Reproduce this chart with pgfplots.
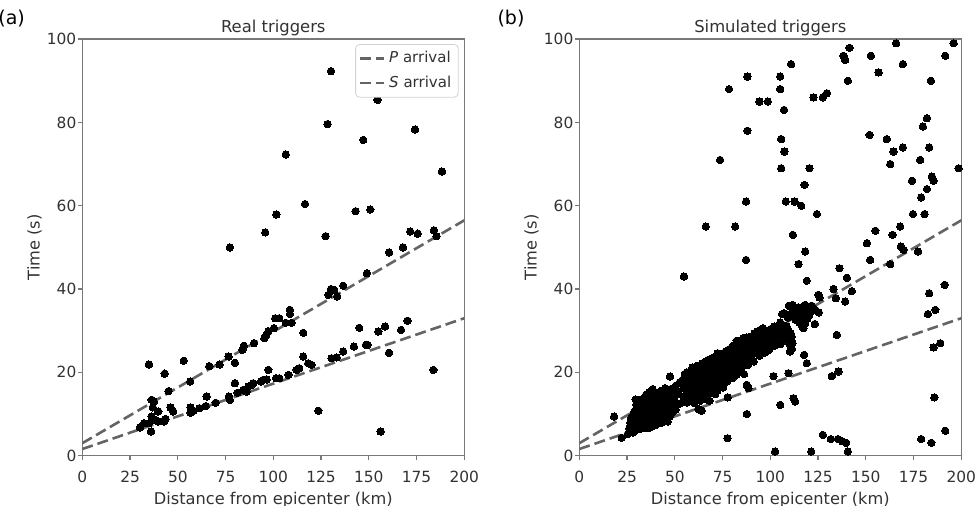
\documentclass[border=0pt]{standalone}
\usepackage{pgfplots}
\pgfplotsset{compat=1.18}
\usepackage{fontspec}
\setmainfont{DejaVu Sans}
\definecolor{txt}{RGB}{50,50,50}
\definecolor{frame}{RGB}{120,120,120}
\definecolor{lc}{RGB}{100,100,100}
\pgfplotsset{
  panel/.style={
    scale only axis, width=191bp, height=208.3bp,
    xmin=0, xmax=200, ymin=0, ymax=100,
    xtick={0,25,...,200}, ytick={0,20,...,100},
    axis line style={frame, line width=0.6bp},
    tick style={frame, line width=0.6bp},
    major tick length=2bp, tick align=outside,
    xtick pos=bottom, ytick pos=left,
    /pgf/number format/assume math mode=true,
    tick label style={font=\fontsize{7.7bp}{9bp}\selectfont, text=txt},
    xticklabel style={inner sep=0pt, yshift=-5.5bp},
    yticklabel style={inner sep=0pt, xshift=-0.8bp},
    label style={font=\fontsize{8.1bp}{9.5bp}\selectfont, text=txt},
    xlabel={Distance from epicenter (km)},
    ylabel={Time (s)},
    xlabel style={at={(axis description cs:0.5,-0.106)}, anchor=center},
    ylabel style={at={(axis description cs:-0.125,0.5)}, anchor=center},
    title style={inner sep=0pt, yshift=-4.5bp, font=\fontsize{8.2bp}{9.5bp}\selectfont, text=txt},
    clip=true,
  },
  dots/.style={only marks, mark=*, mark size=1.85bp, mark options={fill=black, draw=black, line width=0pt}},
  arr/.style={lc, line width=1.3bp, dash pattern=on 5.5bp off 2.5bp, no marks},
}
\begin{document}
\begin{tikzpicture}
\begin{axis}[panel, at={(41.15bp,25.15bp)}, anchor=south west,
  title={Real triggers},
  legend style={at={(0.985,0.988)}, anchor=north east, draw=gray!35, rounded corners=2bp,
    font=\fontsize{7.5bp}{8.5bp}\selectfont, text=txt, inner sep=1.5bp, row sep=1bp},
  legend cell align=left,
  legend image code/.code={\draw[#1] (0bp,0bp) -- (12bp,0bp);},
]
\addplot[arr] coordinates {(0,1.6) (200,33)};
\addlegendentry{\textit{P} arrival}
\addplot[arr] coordinates {(0,3.0) (200,56.5)};
\addlegendentry{\textit{S} arrival}
\addplot[dots, forget plot] coordinates {
(130.2,92.3) (154.6,85.4) (128.4,79.6) (147.1,75.8) (174.2,78.3) (106.5,72.3) (188.3,68.2)
(116.6,60.4) (101.6,57.9) (143.1,58.7) (150.8,59.1) (95.8,53.6) (127.4,52.7) (77.3,50.0)
(171.7,53.8) (175.6,53.3) (184.1,54.1) (185.5,52.7) (160.6,48.8) (167.9,50.0) (149.0,43.8)
(136.6,40.8) (130.2,40.0) (128.8,38.6) (131.9,39.8) (133.5,38.2) (108.7,35.0) (108.7,34.0)
(106.5,31.9) (109.5,31.9) (101.0,33.0) (103.1,33.0) (100.3,30.6) (97.4,29.9) (96.3,29.0)
(95.3,28.2) (89.9,27.0) (84.6,26.4) (83.8,25.4) (79.9,22.3) (76.6,23.8) (71.9,21.9)
(66.5,21.5) (53.1,22.8) (34.9,21.9) (43.1,19.7) (56.5,17.8) (45.2,15.5) (36.3,13.4)
(37.5,13.0) (36.9,11.6) (39.8,10.6) (46.2,11.6) (47.6,10.6) (36.3,9.4) (38.2,8.6)
(34.9,7.8) (36.0,5.8) (30.2,6.8) (32.3,7.8) (39.8,8.2) (42.8,8.2) (43.6,8.8) (56.7,11.6)
(56.7,10.3) (58.1,10.8) (61.3,11.4) (64.6,11.9) (65.1,14.2) (69.8,12.7) (76.8,14.2)
(77.3,13.4) (79.9,17.4) (81.3,15.1) (84.3,15.8) (86.0,15.4) (86.9,16.6) (88.7,17.0)
(89.5,17.4) (93.5,17.8) (94.8,18.2) (96.5,18.3) (97.4,20.6) (101.4,18.6) (103.1,18.6)
(107.9,19.4) (112.2,20.6) (113.6,21.0) (115.7,23.8) (118.3,22.2) (120.0,21.8) (115.7,29.5)
(123.6,10.8) (130.5,23.4) (133.2,23.6) (136.6,25.0) (142.2,26.2) (145.0,30.7) (148.5,26.6)
(149.4,26.6) (155.0,29.8) (158.5,31.0) (160.6,24.7) (166.9,30.2) (170.3,32.4) (183.8,20.6)
(156.2,5.8)
};
\end{axis}
\begin{axis}[panel, at={(289.65bp,25.15bp)}, anchor=south west,
  title={Simulated triggers}]
\addplot[arr] coordinates {(0,1.6) (200,33)};
\addplot[arr] coordinates {(0,3.0) (200,56.5)};
\addplot[dots] coordinates {
(141.5,97.9) (165.9,99.0) (196.0,99.0) (138.3,96.0) (139.2,95.0) (152.7,96.0) (191.6,96.0)
(110.9,94.0) (169.4,94.0) (88.0,91.0) (105.2,91.0) (156.7,92.0) (140.6,90.0) (184.1,90.0)
(78.4,88.0) (105.2,88.0) (94.3,85.0) (98.7,85.0) (122.6,86.0) (127.5,86.0) (129.6,87.0)
(107.2,83.0) (88.0,78.0) (182.0,81.0) (179.9,79.0) (152.0,77.0) (161.0,76.0) (105.7,76.0)
(183.2,74.0) (169.4,74.0) (73.7,71.0) (107.4,73.0) (164.5,73.0) (178.5,71.0) (162.8,70.0)
(105.7,69.0) (120.5,69.0) (198.6,69.0) (184.6,67.0) (185.5,66.0) (174.2,66.0) (117.9,65.0)
(182.0,64.0) (179.0,62.0) (87.3,61.0) (108.1,61.0) (112.7,61.0) (116.2,60.0) (174.7,58.0)
(180.8,58.0) (124.4,58.0) (66.2,55.0) (81.6,55.0) (168.0,55.0) (155.0,54.0) (164.0,53.0)
(111.8,53.0) (150.6,51.0) (168.4,50.2) (169.8,49.4) (177.3,49.0) (87.3,47.0) (118.3,49.0)
(152.3,47.0) (162.8,46.0) (114.8,46.0) (54.8,43.0) (136.2,45.0) (140.1,42.7) (119.1,42.0)
(133.1,40.0) (142.7,39.5) (183.2,39.0) (191.3,41.0) (139.2,37.0) (125.2,38.6) (125.8,38.0)
(134.3,37.8) (182.5,34.0) (186.4,35.0) (134.8,29.0) (189.0,27.0) (185.5,26.0) (135.7,20.2)
(132.2,19.1) (119.1,22.2) (117.7,24.2) (109.5,19.8) (101.7,19.1) (112.1,13.8) (113.0,13.0)
(105.2,12.2) (185.9,14.0) (77.6,4.2) (87.7,10.0) (127.5,5.0) (131.7,4.0) (135.4,4.0)
(137.5,3.5) (139.7,3.1) (140.6,1.0) (102.5,1.0) (121.4,1.0) (179.0,4.0) (184.3,3.1)
(191.6,6.0) (18.2,9.4) (22.2,4.3) (77.7,14.0) (87.7,17.0) (88.6,16.2) (47.5,19.0)
(25.5,5.2) (26.2,6.6) (26.8,7.9) (27.1,9.1) (27.6,6.1) (27.9,7.3) (28.3,8.5) (28.6,10.4)
(28.1,5.6) (29.2,7.0) (29.4,8.8) (29.0,9.7) (29.7,11.2) (29.5,13.5) (29.8,12.3) (30.4,6.3)
(30.6,7.8) (30.2,8.6) (30.9,9.9) (30.5,11.0) (30.8,12.6) (31.3,6.8) (31.6,7.5) (31.2,8.9)
(31.8,10.4) (31.5,11.7) (32.3,6.5) (32.6,8.1) (32.1,9.4) (32.8,10.8) (32.4,12.0) (32.9,13.6)
(33.2,7.1) (33.6,8.4) (33.4,9.3) (33.8,10.1) (33.1,11.3) (33.5,12.8) (34.2,6.7) (34.6,7.6)
(34.4,9.0) (34.8,10.6) (34.1,11.8) (34.5,13.2) (34.9,14.6) (35.3,7.4) (35.6,8.2) (35.2,9.6)
(35.8,10.8) (35.4,12.2) (35.7,13.4) (36.1,6.6) (36.5,8.0) (36.3,9.2) (36.8,10.2) (36.2,11.4)
(36.6,12.8) (36.9,14.2) (36.4,15.2) (37.3,7.2) (37.6,8.6) (37.2,10.0) (37.8,11.0) (37.5,12.4)
(37.9,13.6) (38.2,7.0) (38.5,8.2) (38.3,9.4) (38.8,10.6) (38.1,11.8) (38.6,13.0) (38.9,14.8)
(38.4,16.0) (39.3,7.6) (39.6,8.8) (39.2,10.2) (39.8,11.4) (39.5,12.6) (39.9,14.0) (40.2,7.4)
(40.5,8.4) (40.3,9.6) (40.8,11.0) (40.1,12.2) (40.6,13.4) (40.9,15.0) (41.3,8.0) (41.6,9.2)
(41.2,10.4) (41.8,11.6) (41.5,12.8) (41.9,14.4) (42.2,7.8) (42.5,9.0) (42.3,10.2) (42.8,11.4)
(42.1,12.8) (42.6,14.0) (42.9,15.6) (43.3,8.4) (43.6,9.8) (43.2,11.0) (43.8,12.4) (43.5,13.6)
(44.2,8.2) (44.5,9.4) (44.3,10.8) (44.8,12.0) (44.1,13.2) (44.6,14.8) (44.9,16.2) (45.3,8.8)
(45.6,10.0) (45.2,11.4) (45.8,12.6) (45.5,14.0) (45.9,15.4) (46.3,8.2) (46.6,9.6) (46.2,11.0)
(46.8,12.2) (46.5,13.6) (47.3,9.4) (47.6,10.6) (47.2,12.0) (47.8,13.2) (47.5,14.6) (47.9,16.0)
(48.4,10.2) (48.6,11.6) (48.2,12.8) (48.8,15.0) (49.3,10.8) (49.6,12.4) (49.2,14.0) (49.8,15.8)
(50.4,11.0) (50.2,13.0) (50.7,14.6) (50.5,16.8)
(52.3,12.4) (52.1,14.8) (52.6,17.6) (54.2,13.0) (54.4,16.2) (54.1,18.2) (55.3,14.4) (55.6,17.0)
(55.2,19.6) (56.4,12.8) (56.1,15.6) (56.7,18.6) (56.3,20.0) (57.2,14.8) (57.6,16.8) (57.4,19.0)
(58.3,13.4) (58.1,16.0) (58.6,18.0) (58.4,20.4) (59.2,15.2) (59.5,17.4) (59.7,19.6) (59.3,21.2)
(60.3,12.6) (60.6,14.6) (60.2,16.6) (60.8,18.8) (60.4,20.6) (61.2,13.8) (61.5,15.8) (61.7,17.8)
(61.3,19.8) (61.6,21.6) (62.4,11.2) (62.2,14.4) (62.7,16.4) (62.3,18.4) (62.8,20.2) (63.3,13.2)
(63.5,15.4) (63.2,17.2) (63.7,19.2) (63.4,21.0) (64.1,10.8) (64.4,14.8) (64.6,16.8) (64.2,18.8)
(64.8,20.8) (64.5,22.2) (65.3,13.6) (65.6,15.8) (65.2,17.6) (65.7,19.6) (65.4,21.4) (66.2,14.6)
(66.5,16.6) (66.3,18.6) (66.8,20.4) (66.4,22.6) (67.3,15.4) (67.6,17.4) (67.2,19.4) (67.7,21.2)
(67.4,23.0) (68.2,13.2) (68.5,16.0) (68.3,18.2) (68.8,20.0) (68.4,22.0) (69.3,15.0) (69.6,17.0)
(69.2,19.0) (69.7,21.0) (69.4,23.4) (70.3,16.4) (70.6,18.4) (70.2,20.4) (70.7,22.4) (71.2,14.8)
(71.5,17.8) (71.3,19.8) (71.8,21.8) (71.4,23.8) (72.3,15.6) (72.6,17.6) (72.2,19.6) (72.7,21.6)
(72.4,24.6) (73.3,16.6) (73.6,18.6) (73.2,20.6) (73.7,22.6) (73.4,24.2) (74.3,17.4) (74.6,19.4)
(74.2,21.4) (74.7,23.4) (75.3,16.4) (75.6,18.4) (75.2,20.4) (75.7,22.4) (75.4,24.6)
(76.3,19.2) (76.6,21.2) (76.2,23.6) (76.7,25.0) (77.3,17.8) (77.6,20.4) (77.2,22.4) (77.7,24.4)
(78.3,19.0) (78.6,21.6) (78.2,23.4) (78.7,25.6) (79.3,20.2) (79.6,22.6) (79.2,24.2) (80.3,18.6)
(80.6,21.0) (80.2,23.0) (80.7,25.0) (80.4,26.4) (81.3,20.6) (81.6,22.8) (81.2,24.8) (82.3,19.4)
(82.6,21.8) (82.2,23.8) (82.7,25.8) (82.4,27.6) (83.3,22.2) (83.6,24.4) (83.2,26.2) (84.3,20.4)
(84.6,23.0) (84.2,25.0) (84.7,27.0) (85.3,21.4) (85.6,23.6) (85.2,25.6) (85.7,28.2) (86.3,19.6)
(86.6,22.4) (86.2,24.4) (86.7,26.4) (87.3,23.2) (87.6,25.2) (87.2,27.4) (87.7,28.4) (88.3,21.8)
(88.6,24.0) (88.2,26.0) (88.7,28.0) (89.3,23.0) (89.6,25.4) (89.2,27.2) (90.3,24.2) (90.6,26.4)
(90.2,28.6) (91.3,22.6) (91.6,25.0) (91.2,27.0) (91.7,29.4) (92.3,24.6) (92.6,26.8) (92.2,28.8)
(93.3,25.4) (93.6,27.6) (93.2,29.8) (94.3,24.0) (94.6,26.2) (94.2,28.4) (94.7,30.2) (95.3,25.2)
(95.6,27.2) (95.2,29.2) (96.3,26.0) (96.6,28.2) (96.2,30.6) (97.3,24.8) (97.6,27.0) (97.2,29.0)
(98.3,26.4) (98.6,28.6) (98.2,30.0) (99.3,25.4) (99.6,27.8) (99.2,29.6) (100.3,26.8) (100.6,28.8)
(100.2,30.4)
(101.3,28.0) (101.6,30.0) (102.3,26.4) (102.6,29.2) (102.2,31.0) (103.3,27.6) (103.6,30.4)
(104.3,28.8) (104.6,31.2) (105.3,26.8) (105.6,30.0) (105.2,32.0) (106.3,29.2) (106.6,31.4)
(106.2,34.0) (107.3,28.0) (107.6,30.6) (107.2,34.2) (108.3,29.6) (108.6,31.0) (108.2,34.0)
(109.3,27.4) (109.6,30.0) (109.2,33.2) (109.7,36.0) (110.3,25.0) (110.6,26.4) (110.2,28.0)
(110.7,29.4) (110.4,34.0) (111.3,25.6) (111.6,27.0) (111.2,28.6) (111.7,36.2) (112.3,33.4)
(112.6,35.0) (113.3,32.6) (113.6,34.4) (114.3,33.0) (114.6,35.6) (115.3,32.0) (115.6,34.0)
(116.3,31.4) (116.6,33.2) (116.2,35.6) (117.3,30.6) (117.6,32.4) (117.2,34.6) (118.3,31.8)
(118.6,33.6) (118.2,36.2) (119.3,32.8) (119.6,34.8) (120.3,33.6) (120.6,35.4) (121.3,34.6)
(121.6,36.0) (123.3,31.6) (123.6,35.0) (125.4,34.4)
};
\end{axis}
\node[anchor=center, font=\fontsize{9.5bp}{11bp}\selectfont, text=black] at (5.8bp,243.5bp) {(a)};
\node[anchor=center, font=\fontsize{9.5bp}{11bp}\selectfont, text=black] at (255.5bp,243.5bp) {(b)};
\pgfresetboundingbox
\path (0,0) rectangle (488bp,253bp);
\end{tikzpicture}
\end{document}
